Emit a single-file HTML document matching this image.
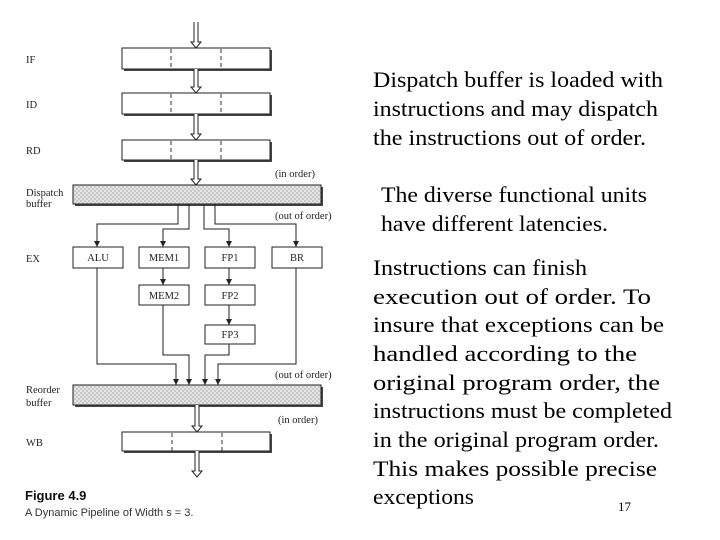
<!DOCTYPE html>
<html><head><meta charset="utf-8"><style>
html,body{margin:0;padding:0;background:#fff;}
svg{display:block;}
.t{font-family:"Liberation Serif",serif;font-size:22.5px;fill:#000;}
.s{font-family:"Liberation Serif",serif;font-size:10.5px;fill:#222;}
</style></head><body>
<svg width="720" height="540" viewBox="0 0 720 540" xmlns="http://www.w3.org/2000/svg">
<defs>
<pattern id="chk" width="4" height="4" patternUnits="userSpaceOnUse">
<rect width="4" height="4" fill="#e4e4e4"/><rect width="2" height="2" fill="#c8c8c8"/><rect x="2" y="2" width="2" height="2" fill="#c8c8c8"/>
</pattern>
<marker id="ah" markerWidth="6" markerHeight="6" refX="6" refY="3" orient="auto" markerUnits="userSpaceOnUse">
<path d="M0,0 L6,3 L0,6 Z" fill="#222"/></marker>
</defs>
<g stroke="#222" stroke-width="1" fill="#fff">
<rect x="124" y="50" width="148" height="21" fill="#444" stroke="none"/>
<rect x="122" y="48" width="148" height="21"/>
<rect x="124" y="95" width="148" height="21" fill="#444" stroke="none"/>
<rect x="122" y="93" width="148" height="21"/>
<rect x="124" y="142" width="148" height="20" fill="#444" stroke="none"/>
<rect x="122" y="140" width="148" height="20"/>
<rect x="124" y="434" width="148" height="19" fill="#444" stroke="none"/>
<rect x="122" y="432" width="148" height="19"/>
<rect x="75" y="187" width="248" height="19" fill="#444" stroke="none"/>
<rect x="73" y="185" width="248" height="19" fill="url(#chk)"/>
<rect x="75" y="387" width="248" height="20" fill="#444" stroke="none"/>
<rect x="73" y="385" width="248" height="20" fill="url(#chk)"/>
<rect x="73" y="247" width="50" height="21"/>
<rect x="139" y="247" width="50" height="21"/>
<rect x="205" y="247" width="50" height="21"/>
<rect x="272" y="247" width="50" height="21"/>
<rect x="139" y="285" width="50" height="20"/>
<rect x="205" y="285" width="50" height="20"/>
<rect x="205" y="325" width="50" height="19"/>
</g>
<g stroke="#333" stroke-dasharray="4,3" stroke-width="1">
<line x1="171" y1="49" x2="171" y2="69"/><line x1="221" y1="49" x2="221" y2="69"/>
<line x1="171" y1="94" x2="171" y2="114"/><line x1="221" y1="94" x2="221" y2="114"/>
<line x1="171" y1="141" x2="171" y2="160"/><line x1="221" y1="141" x2="221" y2="160"/>
<line x1="172" y1="433" x2="172" y2="451"/><line x1="222" y1="433" x2="222" y2="451"/>
</g>
<g stroke="#222" stroke-width="1" fill="#fff">
<path d="M194,22 V42 H191 L196,48 L201,42 H198 V22"/>
<path d="M194,69 V87 H191 L196,93 L201,87 H198 V69"/>
<path d="M194,114 V134 H191 L196,140 L201,134 H198 V114"/>
<path d="M194,160 V179 H191 L196,185 L201,179 H198 V160"/>
<path d="M195,405 V426 H192 L197,432 L202,426 H199 V405"/>
<path d="M195,451 V471 H192 L197,477 L202,471 H199 V451"/>
</g>
<g stroke="#222" stroke-width="1" fill="none" marker-end="url(#ah)">
<path d="M178,204 V224 H97 V247"/>
<path d="M189,204 V229 H163 V247"/>
<path d="M204,204 V229 H229 V247"/>
<path d="M215,204 V224 H296 V247"/>
<path d="M163,268 V285"/>
<path d="M229,268 V285"/>
<path d="M229,305 V325"/>
<path d="M97,268 V364 H176 V385"/>
<path d="M163,305 V355 H189 V385"/>
<path d="M229,344 V355 H205 V385"/>
<path d="M296,268 V364 H218 V385"/>
</g>
<g class="s">
<text x="26" y="63">IF</text>
<text x="26" y="108">ID</text>
<text x="26" y="154">RD</text>
<text x="26" y="196">Dispatch</text>
<text x="26" y="207">buffer</text>
<text x="26" y="262">EX</text>
<text x="26" y="393">Reorder</text>
<text x="26" y="406">buffer</text>
<text x="26" y="446">WB</text>
<text x="275" y="177">(in order)</text>
<text x="275" y="219">(out of order)</text>
<text x="275" y="378">(out of order)</text>
<text x="278" y="423">(in order)</text>
<text x="98" y="261" text-anchor="middle">ALU</text>
<text x="164" y="261" text-anchor="middle">MEM1</text>
<text x="230" y="261" text-anchor="middle">FP1</text>
<text x="297" y="261" text-anchor="middle">BR</text>
<text x="164" y="299" text-anchor="middle">MEM2</text>
<text x="230" y="299" text-anchor="middle">FP2</text>
<text x="230" y="338" text-anchor="middle">FP3</text>
</g>
<text x="25" y="500" font-family="Liberation Sans,sans-serif" font-size="13" font-weight="bold" fill="#111">Figure 4.9</text>
<text x="25" y="516" font-family="Liberation Sans,sans-serif" font-size="11" fill="#333">A Dynamic Pipeline of Width s = 3.</text>
<g class="t">
<text x="373" y="87" textLength="290" lengthAdjust="spacingAndGlyphs">Dispatch buffer is loaded with</text>
<text x="373" y="116" textLength="285" lengthAdjust="spacingAndGlyphs">instructions and may dispatch</text>
<text x="373" y="145" textLength="273" lengthAdjust="spacingAndGlyphs">the instructions out of order.</text>
<text x="381" y="202" textLength="266" lengthAdjust="spacingAndGlyphs">The diverse functional units</text>
<text x="381" y="231" textLength="227" lengthAdjust="spacingAndGlyphs">have different latencies.</text>
<text x="373" y="275" textLength="214" lengthAdjust="spacingAndGlyphs">Instructions can finish</text>
<text x="373" y="304" textLength="278" lengthAdjust="spacingAndGlyphs">execution out of order. To</text>
<text x="373" y="332" textLength="291" lengthAdjust="spacingAndGlyphs">insure that exceptions can be</text>
<text x="373" y="361" textLength="264" lengthAdjust="spacingAndGlyphs">handled according to the</text>
<text x="373" y="390" textLength="287" lengthAdjust="spacingAndGlyphs">original program order, the</text>
<text x="373" y="418" textLength="299" lengthAdjust="spacingAndGlyphs">instructions must be completed</text>
<text x="373" y="447" textLength="286" lengthAdjust="spacingAndGlyphs">in the original program order.</text>
<text x="373" y="476" textLength="284" lengthAdjust="spacingAndGlyphs">This makes possible precise</text>
<text x="373" y="504" textLength="101" lengthAdjust="spacingAndGlyphs">exceptions</text>
</g>
<text x="618" y="511" font-family="Liberation Serif,serif" font-size="13" fill="#000">17</text>
</svg>
</body></html>
